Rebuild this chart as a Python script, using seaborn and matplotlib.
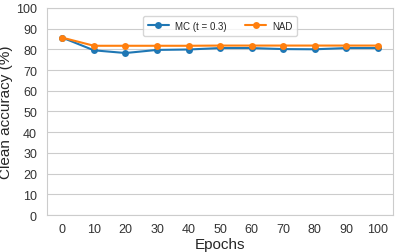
import numpy as np
import pandas as pd
import matplotlib
matplotlib.use("Agg")
import matplotlib.pyplot as plt
import seaborn as sns

# datos
epochs = [0, 10, 20, 30, 40, 50, 60, 70, 80, 90, 100]
mc_acc = [85.6, 79.5, 78.2, 79.7, 79.9, 80.6, 80.6, 80.1, 80.0, 80.6, 80.6]
nad_acc = [85.6, 81.7, 81.7, 81.7, 81.7, 81.8, 81.8, 81.8, 81.8, 81.8, 81.8]
series_names = ["MC (t = 0.3)", "NAD"]

df = pd.DataFrame({
    "Epochs": epochs * 2,
    "acc": mc_acc + nad_acc,
    "metodo": [series_names[0]] * len(epochs) + [series_names[1]] * len(epochs),
})

sns.set_style("whitegrid")
plt.rcParams["font.family"] = ["Liberation Sans", "DejaVu Sans"]

fig, ax = plt.subplots(figsize=(3.99, 2.53), dpi=100)
sns.lineplot(data=df, x="Epochs", y="acc", hue="metodo", marker="o",
             markersize=5, markeredgewidth=0, linewidth=1.5,
             palette=["#1f77b4", "#ff7f0e"], ax=ax)
ax.grid(axis="x", visible=False)
ax.set_xlim(-5, 105)
ax.set_ylim(0, 100)
ax.set_xticks(epochs)
ax.set_yticks(range(0, 101, 10))
ax.tick_params(axis="x", labelsize=9, colors="#333333", pad=2.5)
ax.tick_params(axis="y", labelsize=9, colors="#333333", pad=3.5)
ax.set_xlabel("Epochs", fontsize=11, labelpad=1)
ax.set_ylabel("Clean accuracy (%)", fontsize=11, labelpad=2)
ax.legend(loc="upper center", ncol=2, fontsize=7, frameon=True,
          bbox_to_anchor=(0.5, 0.985), borderpad=0.5, columnspacing=1.9,
          handlelength=2.2, handletextpad=0.6)

fig.subplots_adjust(left=0.117, right=0.986, top=0.965, bottom=0.146)
fig.savefig("out.png", dpi=100)
